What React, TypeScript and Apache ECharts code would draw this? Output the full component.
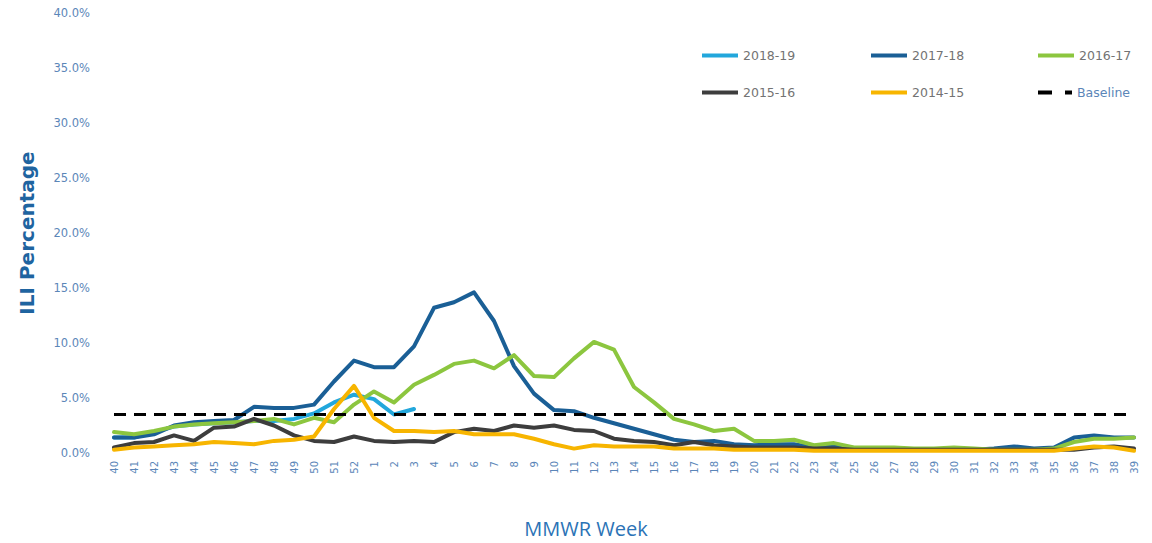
import React, { useEffect, useRef } from "react";
import * as echarts from "echarts";

const weeks: string[] = [
  "40","41","42","43","44","45","46","47","48","49","50","51","52",
  "1","2","3","4","5","6","7","8","9","10","11","12","13","14","15","16","17","18","19","20",
  "21","22","23","24","25","26","27","28","29","30","31","32","33","34","35","36","37","38","39",
];

const s2018_19: (number | null)[] = [
  1.4, 1.4, 1.9, 2.4, 2.6, 2.7, 2.8, 2.9, 2.9, 3.1, 3.6, 4.6, 5.3,
  4.9, 3.5, 4.0,
];

const s2017_18: number[] = [
  1.4, 1.4, 1.7, 2.5, 2.8, 2.9, 3.0, 4.2, 4.1, 4.1, 4.4, 6.5, 8.4,
  7.8, 7.8, 9.7, 13.2, 13.7, 14.6, 12.0, 7.9, 5.4, 3.9, 3.8, 3.2, 2.7, 2.2, 1.7, 1.2, 1.0, 1.1, 0.8, 0.7,
  0.8, 0.8, 0.5, 0.6, 0.4, 0.4, 0.4, 0.3, 0.3, 0.3, 0.3, 0.4, 0.6, 0.4, 0.5, 1.4, 1.6, 1.4, 1.4,
];

const s2016_17: number[] = [
  1.9, 1.7, 2.0, 2.4, 2.6, 2.7, 2.8, 2.9, 3.1, 2.6, 3.2, 2.8, 4.4,
  5.6, 4.6, 6.2, 7.1, 8.1, 8.4, 7.7, 8.9, 7.0, 6.9, 8.6, 10.1, 9.4, 6.0, 4.6, 3.1, 2.6, 2.0, 2.2, 1.1,
  1.1, 1.2, 0.7, 0.9, 0.5, 0.5, 0.5, 0.4, 0.4, 0.5, 0.4, 0.3, 0.3, 0.3, 0.4, 1.0, 1.3, 1.3, 1.4,
];

const s2015_16: number[] = [
  0.5, 0.9, 1.0, 1.6, 1.1, 2.3, 2.4, 3.1, 2.5, 1.6, 1.1, 1.0, 1.5,
  1.1, 1.0, 1.1, 1.0, 1.9, 2.2, 2.0, 2.5, 2.3, 2.5, 2.1, 2.0, 1.3, 1.1, 1.0, 0.7, 1.0, 0.7, 0.6, 0.5,
  0.5, 0.5, 0.4, 0.4, 0.3, 0.3, 0.3, 0.3, 0.3, 0.3, 0.3, 0.3, 0.3, 0.3, 0.3, 0.3, 0.5, 0.6, 0.4,
];

const s2014_15: number[] = [
  0.3, 0.5, 0.6, 0.7, 0.8, 1.0, 0.9, 0.8, 1.1, 1.2, 1.5, 4.0, 6.1,
  3.2, 2.0, 2.0, 1.9, 2.0, 1.7, 1.7, 1.7, 1.3, 0.8, 0.4, 0.7, 0.6, 0.6, 0.6, 0.4, 0.4, 0.4, 0.3, 0.3,
  0.3, 0.3, 0.2, 0.2, 0.2, 0.2, 0.2, 0.2, 0.2, 0.2, 0.2, 0.2, 0.2, 0.2, 0.2, 0.4, 0.6, 0.5, 0.2,
];

const baselineValue = 3.5;
const baseline: number[] = weeks.map(() => baselineValue);

const seriesNames = ["2018-19", "2017-18", "2016-17", "2015-16", "2014-15", "Baseline"];
const seriesColors = ["#22a7dc", "#1a5f96", "#8cc63f", "#3d3d3d", "#f7b500", "#000000"];
const seriesData = [s2018_19, s2017_18, s2016_17, s2015_16, s2014_15, baseline];

const legendPos = [
  { left: 697, top: 44 },
  { left: 866, top: 44 },
  { left: 1033, top: 44 },
  { left: 697, top: 81 },
  { left: 866, top: 81 },
  { left: 1033, top: 81 },
];

const solidIcon = "path://M0,0H36V4H0Z";
const dashIcon = "path://M0,0H14V4H0Z M27,0H34V4H27Z";

export default function App() {
  const ref = useRef<HTMLDivElement>(null);
  useEffect(() => {
    if (!ref.current) return;
    const chart = echarts.init(ref.current, null, { renderer: "svg" });
    const font = "'DejaVu Sans', 'Open Sans', sans-serif";
    chart.setOption({
      animation: false,
      textStyle: { fontFamily: font },
      grid: { left: 114, right: 18, top: 13, bottom: 89 },
      legend: seriesNames.map((n, i) => ({
        data: [{ name: n, icon: i === 5 ? dashIcon : solidIcon }],
        left: legendPos[i].left,
        top: legendPos[i].top,
        itemWidth: i === 5 ? 34 : 36,
        itemHeight: 4,
        itemGap: 2,
        itemStyle: { color: seriesColors[i], borderWidth: 0 },
        textStyle: { color: i === 5 ? "#5b86b8" : "#737373", fontSize: 12.5, fontFamily: font },
      })),
      xAxis: {
        type: "category",
        boundaryGap: false,
        data: weeks,
        axisLine: { show: false },
        axisTick: { show: false },
        splitLine: { show: false },
        axisLabel: { rotate: 90, interval: 0, fontSize: 10, color: "#5b86b8", margin: 8 },
        name: "MMWR Week",
        nameLocation: "middle",
        nameGap: 65,
        nameTextStyle: { fontSize: 20, color: "#2b73b6", padding: [0, 76, 0, 0], fontFamily: "'Open Sans', sans-serif" },
      },
      yAxis: {
        type: "value",
        min: 0,
        max: 40,
        interval: 5,
        axisLine: { show: false },
        axisTick: { show: false },
        splitLine: { show: false },
        axisLabel: {
          formatter: (v: number) => v.toFixed(1) + "%",
          fontSize: 11.5,
          color: "#5b86b8",
          margin: 24,
        },
        name: "ILI Percentage",
        nameLocation: "middle",
        nameRotate: 90,
        nameGap: 77,
        nameTextStyle: { fontSize: 20, fontWeight: "bold", color: "#1f64a0" },
      },
      series: seriesNames.map((n, i) => ({
        name: n,
        type: "line",
        data: seriesData[i],
        symbol: "none",
        showSymbol: false,
        color: seriesColors[i],
        lineStyle: {
          width: i === 5 ? 3 : 4,
          color: seriesColors[i],
          type: i === 5 ? [12, 8] : "solid",
          cap: i === 5 ? "butt" : "round",
          join: "round",
        },
        z: i + 2,
      })),
    });
    return () => chart.dispose();
  }, []);
  return (
    <div
      ref={ref}
      style={{ position: "absolute", left: 0, top: 0, width: 1152, height: 543, background: "#fff" }}
    />
  );
}
